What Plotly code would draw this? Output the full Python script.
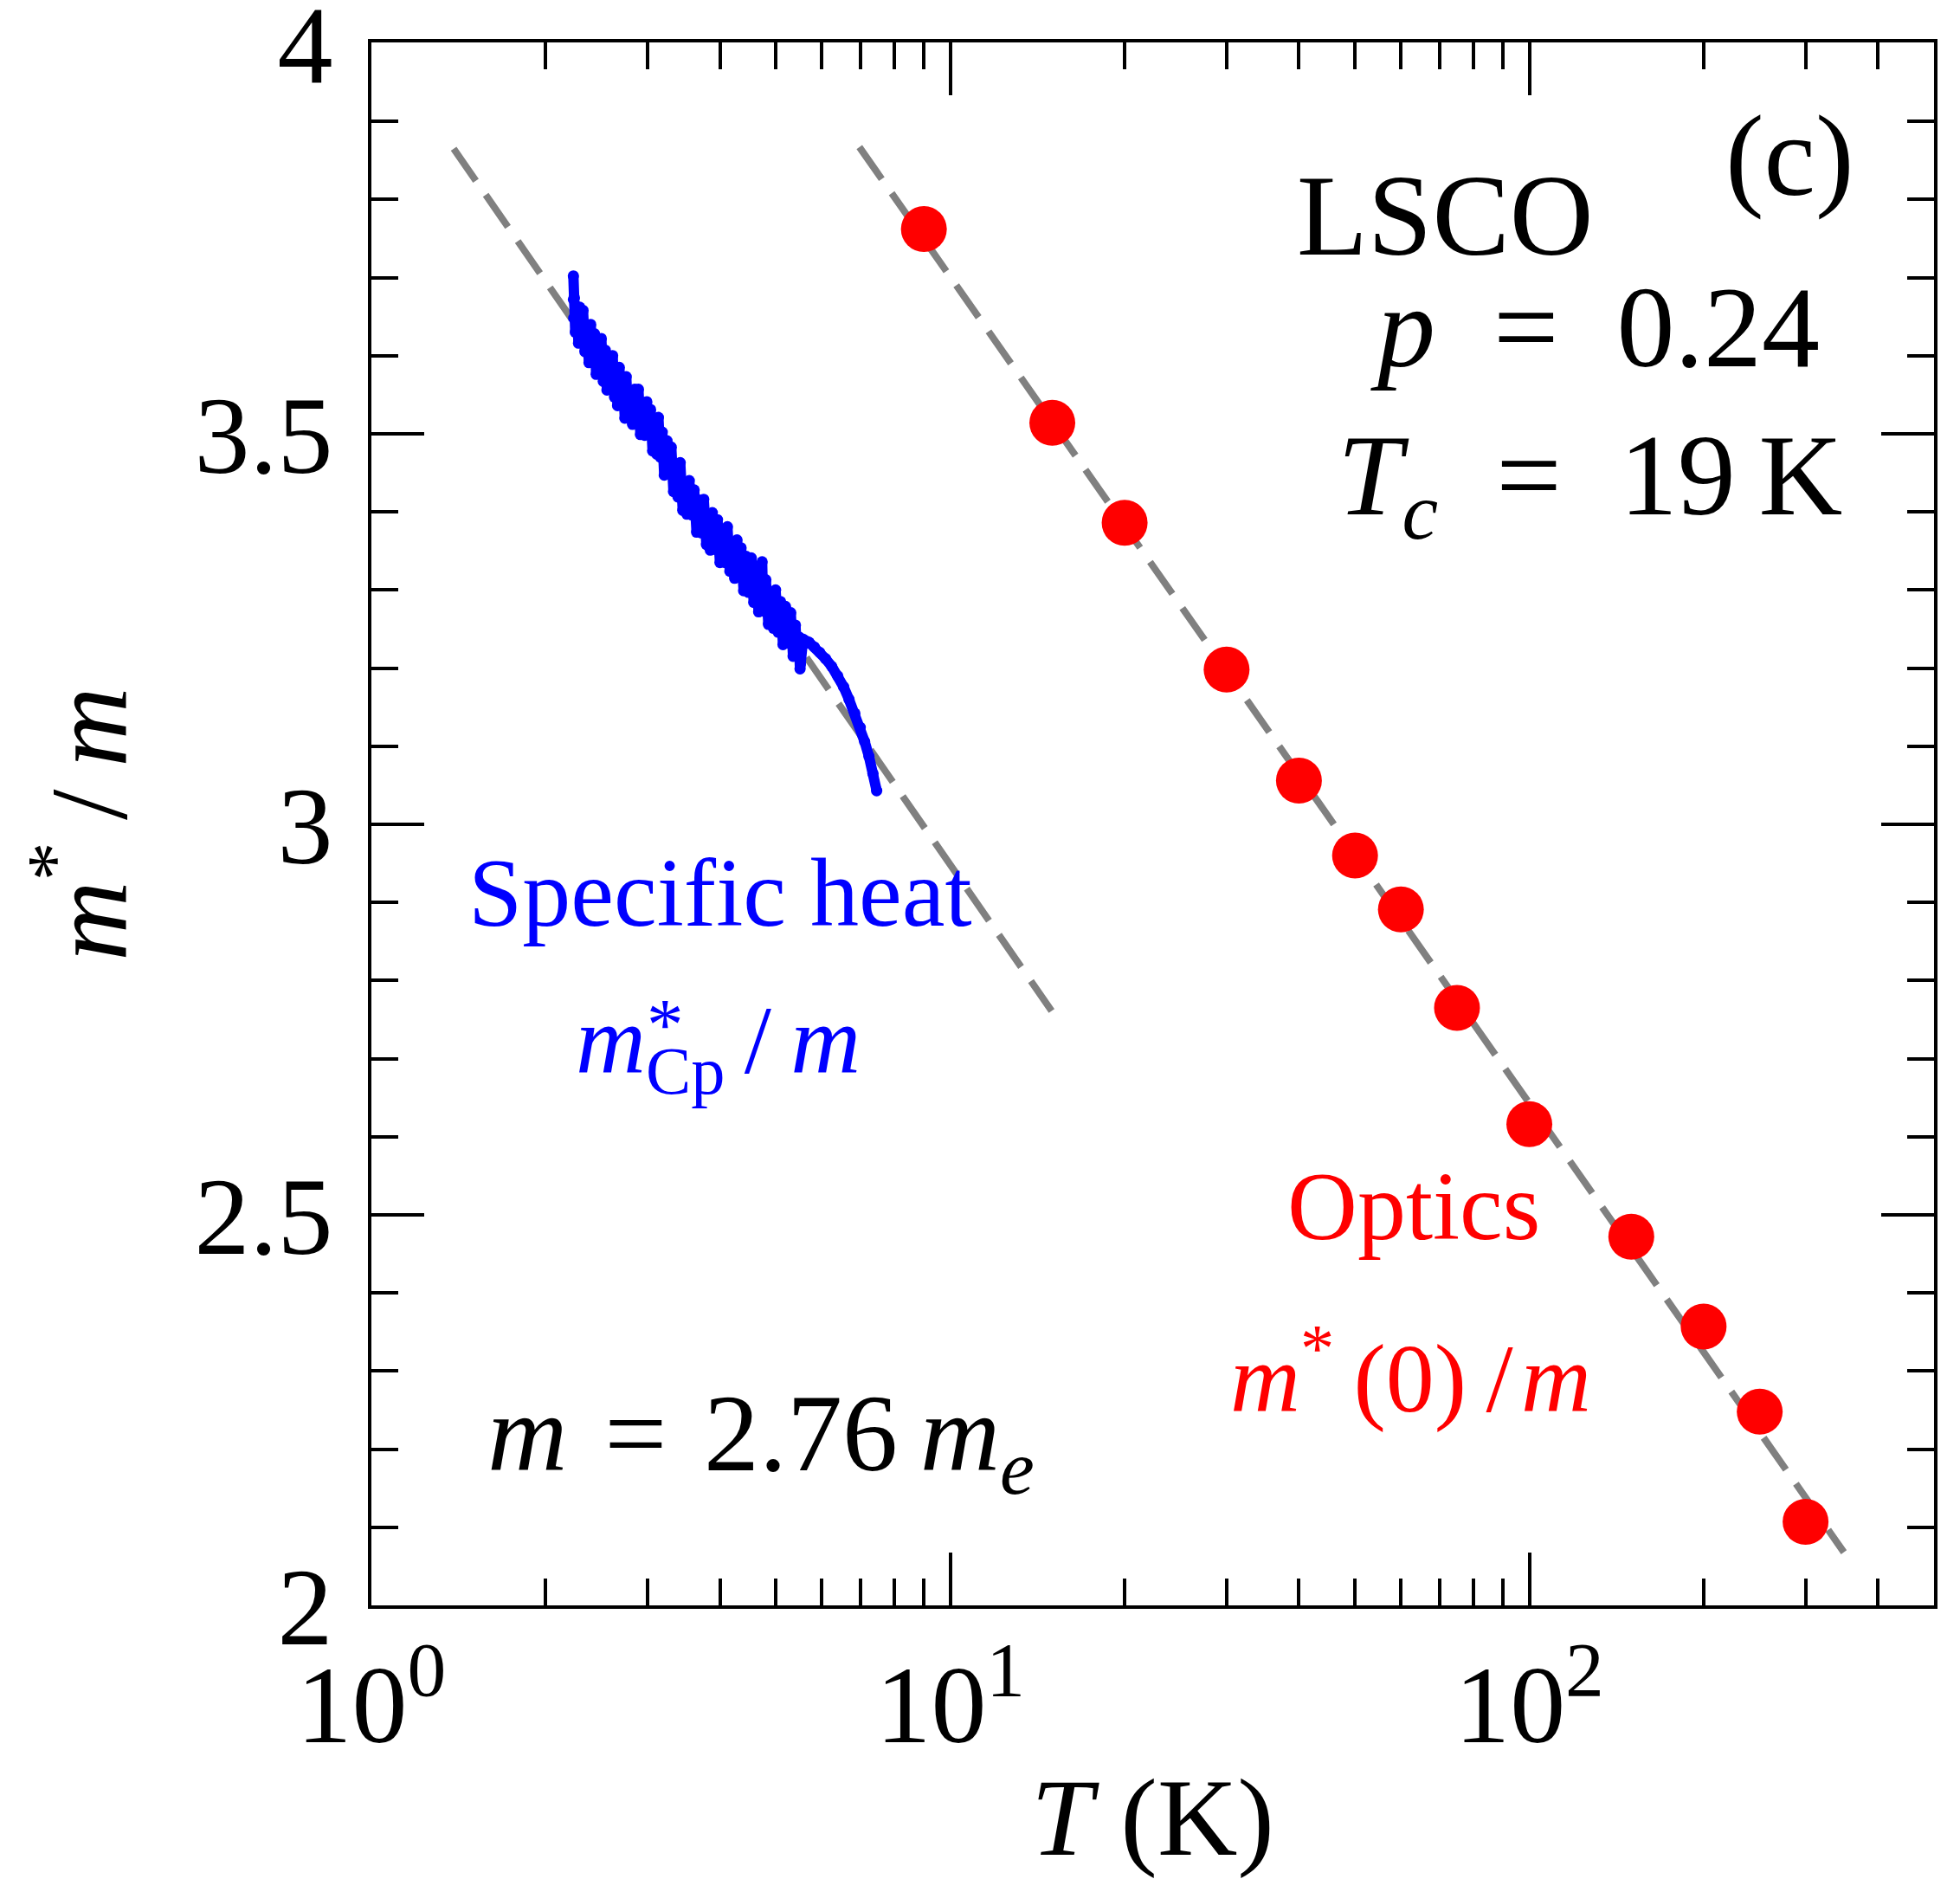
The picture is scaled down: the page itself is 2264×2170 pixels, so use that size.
import plotly.graph_objects as go

# ---------------- data ----------------
# Optics: m*(0)/m vs T (K)
optics_T = [9, 15, 20, 30, 40, 50, 60, 75, 100, 150, 200, 250, 300]
optics_m = [3.762, 3.514, 3.386, 3.198, 3.056, 2.960, 2.891, 2.765, 2.616, 2.472, 2.357, 2.248, 2.107]

# Specific heat: m*_Cp/m vs T (K)
cp_T = [2.233, 2.233, 2.236, 2.242, 2.250, 2.262, 2.279, 2.290, 2.305, 2.320, 2.338, 2.355,
        2.376, 2.392, 2.410, 2.428, 2.445, 2.459, 2.478, 2.495, 2.515, 2.535, 2.552, 2.572,
        2.590, 2.610, 2.630, 2.650, 2.662, 2.680, 2.700, 2.720, 2.740, 2.755, 2.775, 2.800,
        2.825, 2.850, 2.870, 2.892, 2.915, 2.940, 2.965, 2.990, 3.010, 3.035, 3.060, 3.085,
        3.110, 3.131, 3.155, 3.180, 3.205, 3.240, 3.265, 3.295, 3.325, 3.354, 3.385, 3.415,
        3.450, 3.480, 3.507, 3.540, 3.575, 3.610, 3.645, 3.681, 3.715, 3.750, 3.790, 3.820,
        3.849, 3.880, 3.920, 3.960, 4.000, 4.040, 4.082, 4.120, 4.160, 4.200, 4.240, 4.280,
        4.313, 4.350, 4.395, 4.440, 4.480, 4.530, 4.575, 4.620, 4.665, 4.710, 4.730, 4.750,
        4.800, 4.850, 4.900, 4.950, 4.990, 5.040, 5.090, 5.140, 5.190, 5.249, 5.300, 5.350,
        5.400, 5.433, 5.470, 5.500, 5.508, 5.520, 5.566, 5.700, 5.821, 5.950, 6.087, 6.240,
        6.389, 6.540, 6.682, 6.840, 6.988, 7.110, 7.234, 7.350, 7.459]
cp_m = [3.702, 3.672, 3.648, 3.674, 3.630, 3.663, 3.616, 3.662, 3.624, 3.658, 3.605, 3.634,
        3.591, 3.640, 3.594, 3.628, 3.576, 3.614, 3.589, 3.622, 3.567, 3.607, 3.556, 3.594,
        3.560, 3.600, 3.547, 3.573, 3.536, 3.585, 3.542, 3.572, 3.520, 3.573, 3.523, 3.553,
        3.512, 3.557, 3.521, 3.557, 3.499, 3.540, 3.498, 3.541, 3.500, 3.531, 3.478, 3.515,
        3.474, 3.521, 3.470, 3.502, 3.447, 3.491, 3.452, 3.483, 3.426, 3.460, 3.419, 3.463,
        3.402, 3.435, 3.397, 3.440, 3.396, 3.428, 3.374, 3.415, 3.373, 3.416, 3.358, 3.392,
        3.351, 3.399, 3.352, 3.390, 3.335, 3.376, 3.335, 3.381, 3.324, 3.360, 3.315, 3.364,
        3.322, 3.354, 3.299, 3.343, 3.297, 3.341, 3.284, 3.318, 3.272, 3.318, 3.336, 3.273,
        3.313, 3.256, 3.296, 3.251, 3.300, 3.246, 3.285, 3.230, 3.279, 3.232, 3.271, 3.215,
        3.255, 3.218, 3.240, 3.199, 3.205, 3.232, 3.237, 3.233, 3.227, 3.220, 3.212, 3.202,
        3.190, 3.176, 3.160, 3.142, 3.124, 3.106, 3.087, 3.065, 3.043]

# dashed guide lines (log-linear fits)
fit_cp_T = [1.387, 14.96]
fit_cp_m = [3.865, 2.761]
fit_opt_T = [6.964, 349.4]
fit_opt_m = [3.867, 2.068]

# axis ticks
x_tickvals = [1, 10, 100]
x_ticktext = ["10<sup>0</sup>", "10<sup>1</sup>", "10<sup>2</sup>"]
x_minorvals = [2, 3, 4, 5, 6, 7, 8, 9, 20, 30, 40, 50, 60, 70, 80, 90, 200, 300, 400]
y_tickvals = [2, 2.5, 3, 3.5, 4]
y_ticktext = ["2", "2.5", "3", "3.5", "4"]

FONT = "Liberation Serif"
GRAY = "#808080"

fig = go.Figure()

fig.add_trace(go.Scatter(x=fit_cp_T, y=fit_cp_m, mode="lines",
                         line=dict(color=GRAY, width=8, dash="45px,20px"),
                         showlegend=False, hoverinfo="skip"))
fig.add_trace(go.Scatter(x=fit_opt_T, y=fit_opt_m, mode="lines",
                         line=dict(color=GRAY, width=8, dash="45px,20px"),
                         showlegend=False, hoverinfo="skip"))
fig.add_trace(go.Scatter(x=cp_T, y=cp_m, mode="lines+markers",
                         line=dict(color="#0000ff", width=12),
                         marker=dict(color="#0000ff", size=13, line=dict(width=0)),
                         showlegend=False))
fig.add_trace(go.Scatter(x=optics_T, y=optics_m, mode="markers",
                         marker=dict(color="#ff0000", size=53, line=dict(width=0)),
                         showlegend=False))

axis_common = dict(
    showline=True, linecolor="black", linewidth=4, mirror="allticks",
    ticks="inside", ticklen=61, tickwidth=4, tickcolor="black",
    showgrid=False, zeroline=False, ticklabeloverflow="allow",
    tickfont=dict(family=FONT, size=128, color="black"),
)

fig.update_xaxes(
    type="log", range=[0, 2.699],
    tickmode="array", tickvals=x_tickvals, ticktext=x_ticktext,
    minor=dict(ticks="inside", ticklen=31, tickwidth=4, tickcolor="black",
               tickmode="array", tickvals=x_minorvals, showgrid=False),
    title=dict(text="<i>T</i> (K)", font=dict(family=FONT, size=128, color="black"),
               standoff=20),
    **axis_common,
)
fig.update_yaxes(
    range=[2, 4.001],
    tickmode="array", tickvals=y_tickvals, ticktext=y_ticktext,
    ticklabelstandoff=15,
    minor=dict(ticks="inside", ticklen=31, tickwidth=4, tickcolor="black",
               dtick=0.1, tick0=2, showgrid=False),
    title=dict(text="<i>m</i><sup>*</sup>\u2009/\u2009<i>m</i>",
               font=dict(family=FONT, size=128, color="black"), standoff=36),
    **axis_common,
)

def ann(text, x, y, size, color="black"):
    fig.add_annotation(text=text, x=x, y=y, xref="paper", yref="paper",
                       xanchor="center", yanchor="middle", showarrow=False,
                       font=dict(family=FONT, size=size, color=color))

ann("(c)", 0.908, 0.9276, 134)
ann("LSCO", 0.6875, 0.889, 134)
ann("<i>p</i>\u2002=\u20020.24", 0.783, 0.818, 134)
ann("<i>T<sub>c</sub></i>\u2002=\u200219\u2009K", 0.780, 0.718, 134)
ann("Specific heat", 0.2233, 0.456, 112, "#0000ff")
ann("<i>m</i><sub>Cp</sub>\u2009/\u2009<i>m</i>", 0.222, 0.357, 112, "#0000ff")
ann("*", 0.188, 0.372, 85, "#0000ff")
ann("Optics", 0.667, 0.2554, 112, "#ff0000")
ann("<i>m</i><sup>*</sup>\u2009(0)\u2009/\u200a<i>m</i>", 0.665, 0.1496, 112, "#ff0000")
ann("<i>m</i>\u2004=\u20042.76\u2009<i>m<sub>e</sub></i>", 0.2494, 0.1055, 128)

# the page body has an 8 px margin; size the figure so the plot area lands where it should
fig.update_layout(
    width=2256, height=2162,
    margin=dict(l=421, r=30, t=41, b=316, autoexpand=False),
    paper_bgcolor="white", plot_bgcolor="white",
    font=dict(family=FONT, color="black"),
)

fig.write_html("out.html")
